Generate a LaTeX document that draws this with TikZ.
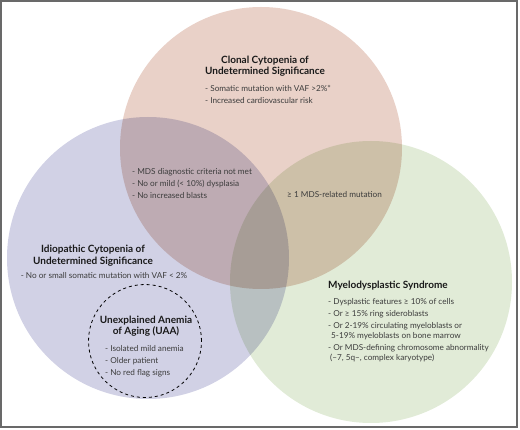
\documentclass[tikz,border=0pt]{standalone}
\usepackage{fontspec}
\setmainfont{Lato}
\usetikzlibrary{positioning}
\definecolor{ccusfill}{RGB}{233,209,200}
\definecolor{icusfill}{RGB}{209,209,229}
\definecolor{mdsfill}{RGB}{225,235,215}
\definecolor{framegray}{RGB}{105,105,105}
\definecolor{bodytext}{RGB}{60,60,60}

\begin{document}
\begin{tikzpicture}[
    x=1pt, y=-1pt,
    set/.style={circle, minimum size=282pt, inner sep=0pt, draw=none},
    title/.style={font=\fontsize{10}{11.5}\selectfont\bfseries, align=center, text=black!90, inner sep=0pt},
    bullets/.style={font=\fontsize{8.2}{10}\selectfont, align=left, text=bodytext, inner sep=0pt}
]

\useasboundingbox (0,0) rectangle (520,430);
\draw[framegray, line width=1.2pt] (1,1) rectangle (517,427);

% Mengen
\begin{scope}[blend mode=multiply]
\node[set, fill=ccusfill] (ccus) at (261,148) {};
\node[set, fill=icusfill] (icus) at (148,258) {};
\node[set, fill=mdsfill] (mds) at (371,282) {};
\end{scope}
\node[circle, draw, dashed, line width=0.8pt, minimum size=113pt, inner sep=0pt] (uaa) at (145,341) {};

% CCUS
\node[title] (ccustitle) at (265,66) {Clonal Cytopenia of\\Undetermined Significance};
\node[bullets, anchor=north west] (ccustext) at (205,85.5) {- Somatic mutation with VAF >2\%*\\[2pt]- Increased cardiovascular risk};

% Ueberlappungen
\node[bullets, anchor=north west] (overlap) at (132,168.5) {- MDS diagnostic criteria not met\\[2pt]- No or mild (< 10\%) dysplasia\\[2pt]- No increased blasts};
\node[bullets, anchor=west] (mdsmut) at (287,195) {≥ 1 MDS-related mutation};

% ICUS
\node[title] (icustitle) at (93,255.5) {Idiopathic Cytopenia of\\Undetermined Significance};
\node[bullets] (icustext) at (104,276) {- No or small somatic mutation with VAF < 2\%};

% UAA
\node[title] (uaatitle) at (146,326) {Unexplained Anemia\\of Aging (UAA)};
\node[bullets, anchor=north west] (uaatext) at (105,345.5) {- Isolated mild anemia\\[2pt]- Older patient\\[2pt]- No red flag signs};

% MDS
\node[title, anchor=west] (mdstitle) at (328,286) {Myelodysplastic Syndrome};
\node[bullets, anchor=north west] (mdstext) at (328,298.5) {- Dysplastic features ≥ 10\% of cells\\[2pt]- Or ≥ 15\% ring sideroblasts\\[2pt]- Or 2-19\% circulating myeloblasts or\\\hspace{3pt}5-19\% myeloblasts on bone marrow\\[2pt]- Or MDS-defining chromosome abnormality\\\hspace{2pt}(–7, 5q–, complex karyotype)};

\end{tikzpicture}
\end{document}
